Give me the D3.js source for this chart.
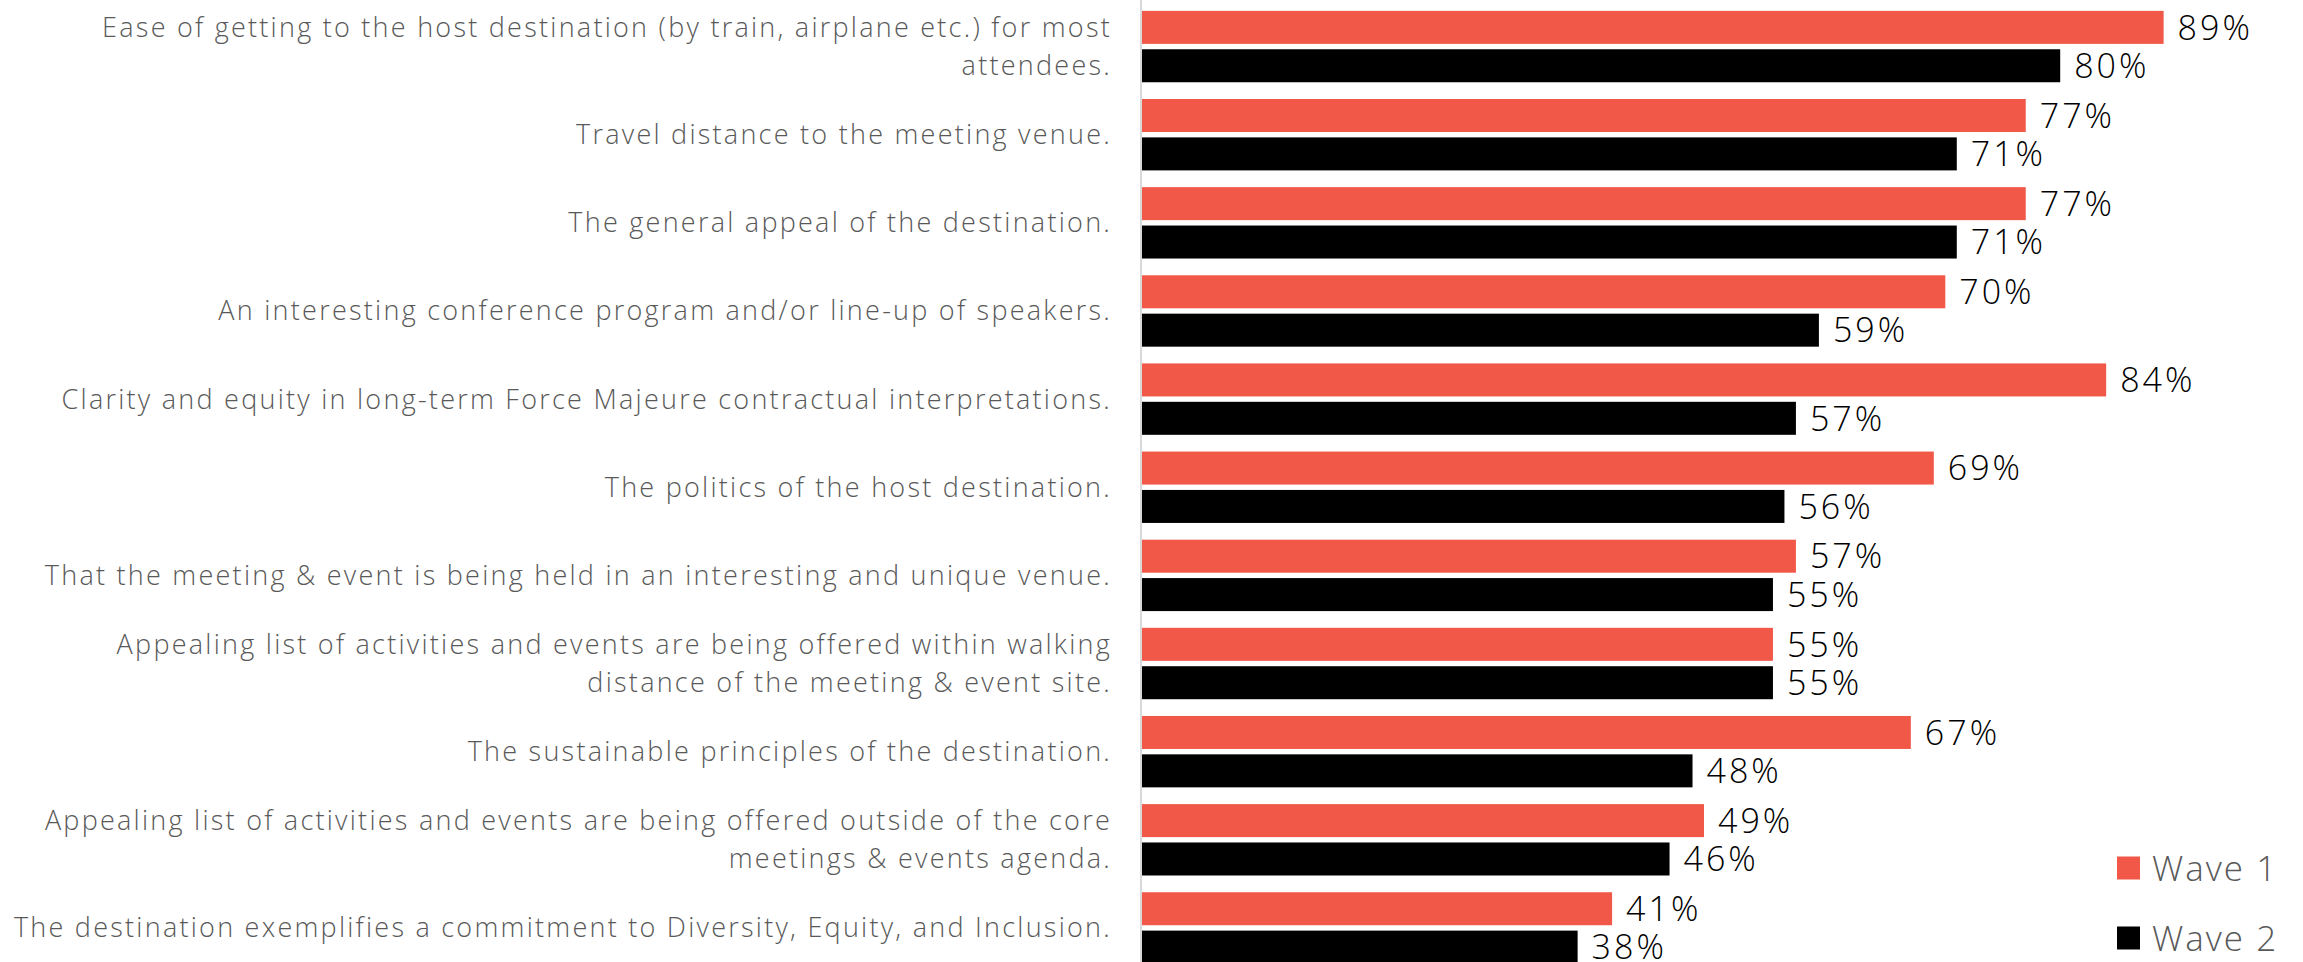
<!DOCTYPE html>
<html><head><meta charset="utf-8">
<script src="https://cdn.jsdelivr.net/npm/d3@7"></script>
<style>html,body{margin:0;padding:0;background:#fff;overflow:hidden}</style>
</head><body><svg id="c" width="2303" height="962"></svg>
<script>
const categories = [
  "Ease of getting to the host destination (by train, airplane etc.) for most\nattendees.",
  "Travel distance to the meeting venue.",
  "The general appeal of the destination.",
  "An interesting conference program and/or line-up of speakers.",
  "Clarity and equity in long-term Force Majeure contractual interpretations.",
  "The politics of the host destination.",
  "That the meeting & event is being held in an interesting and unique venue.",
  "Appealing list of activities and events are being offered within walking\ndistance of the meeting & event site.",
  "The sustainable principles of the destination.",
  "Appealing list of activities and events are being offered outside of the core\nmeetings & events agenda.",
  "The destination exemplifies a commitment to Diversity, Equity, and Inclusion."
];
const seriesNames = ["Wave 1", "Wave 2"];
const wave1 = [89, 77, 77, 70, 84, 69, 57, 55, 67, 49, 41];
const wave2 = [80, 71, 71, 59, 57, 56, 55, 55, 48, 46, 38];
const colors = ["#F15848", "#000000"];

const svg = d3.select("#c");
const x = d3.scaleLinear().domain([0, 100]).range([1141, 2290]);
const y = d3.scaleBand().domain(categories).range([2.5, 972]).paddingInner(0.19).paddingOuter(0.095);
const ys = d3.scaleBand().domain(seriesNames).range([0, y.bandwidth()]).paddingInner(0.14);
const series = [wave1, wave2];
const FONT = "'Open Sans', sans-serif";

// axis line
svg.append("line").attr("x1", x(0)).attr("x2", x(0)).attr("y1", 0).attr("y2", 962)
  .attr("stroke", "#d9d9d9").attr("stroke-width", 2);

const g = svg.append("g");
categories.forEach((c, i) => {
  series.forEach((s, j) => {
    const yy = y(c) + ys(seriesNames[j]);
    g.append("rect").attr("x", x(0) + 1).attr("y", yy)
      .attr("width", x(s[i]) - x(0) - 1).attr("height", ys.bandwidth())
      .attr("fill", colors[j]);
    g.append("text").attr("x", x(s[i]) + 14).attr("y", yy + ys.bandwidth() / 2)
      .attr("dy", "0.36em").attr("font-family", FONT).attr("font-size", 34).attr("font-weight", 300)
      .attr("letter-spacing", 3)
      .attr("fill", "#000").text(s[i] + "%");
  });
  const lines = c.split("\n");
  const cy = y(c) + y.bandwidth() / 2;
  const t = g.append("text").attr("text-anchor", "end").attr("font-family", FONT)
    .attr("font-size", 27).attr("font-weight", 300).attr("letter-spacing", 2.25).attr("fill", "#595959");
  lines.forEach((ln, k) => {
    t.append("tspan").attr("x", 1112)
      .attr("y", cy + (k - (lines.length - 1) / 2) * 38).attr("dy", "0.35em").text(ln);
  });
});

// legend
const leg = svg.append("g");
seriesNames.forEach((n, j) => {
  const ly = 868 + j * 70;
  leg.append("rect").attr("x", 2117).attr("y", ly - 11.5).attr("width", 23).attr("height", 23).attr("fill", colors[j]);
  leg.append("text").attr("x", 2152).attr("y", ly).attr("dy", "0.36em")
    .attr("font-family", FONT).attr("font-size", 35).attr("font-weight", 300).attr("letter-spacing", 2)
    .attr("fill", "#595959").text(n);
});
</script></body></html>
